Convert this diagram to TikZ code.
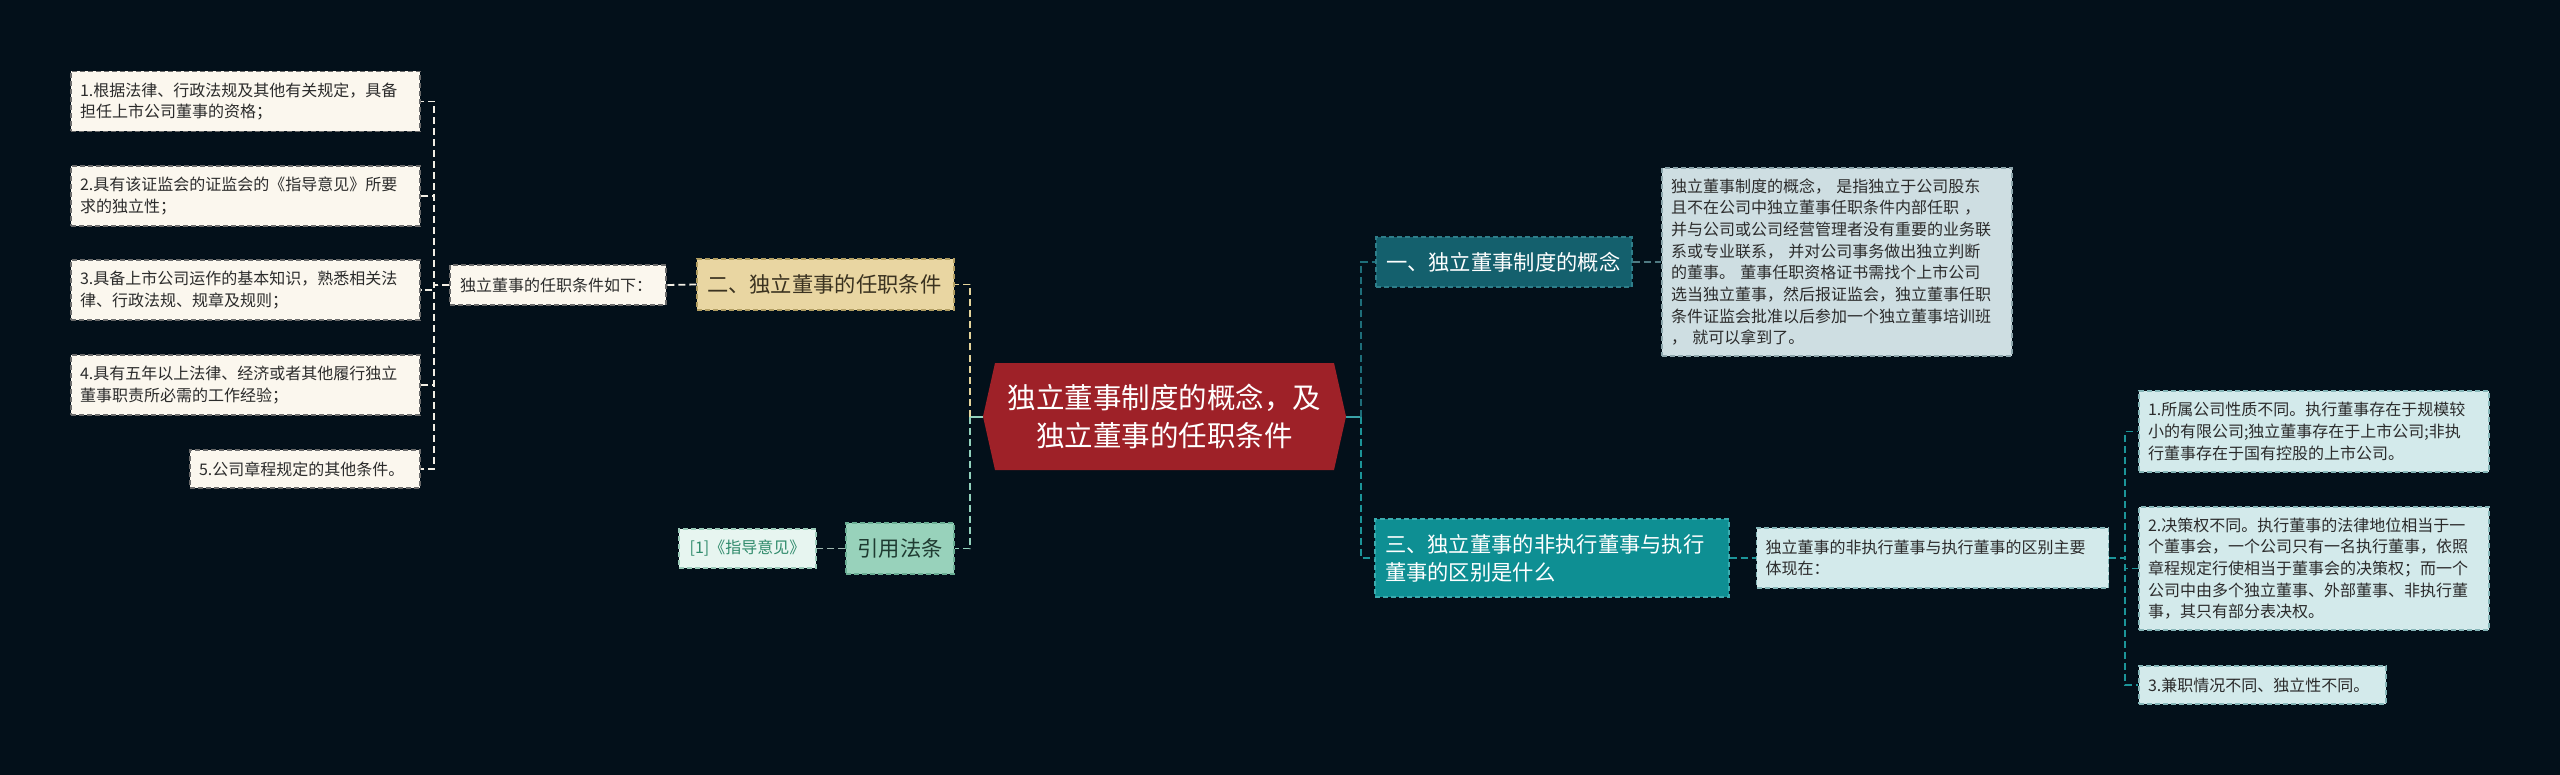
\documentclass[tikz,border=0pt]{standalone}
\usepackage{fontspec}
\setmainfont{Noto Sans CJK SC}
\XeTeXlinebreaklocale "zh"
\usetikzlibrary{calc}
\definecolor{cbg}{HTML}{03101A}
\definecolor{cink}{HTML}{2B2B2B}
\definecolor{cleaf}{HTML}{FBF7EE}
\definecolor{cleafln}{HTML}{6B6B6B}
\definecolor{ctwo}{HTML}{E9D6A2}
\definecolor{ctwoln}{HTML}{B29E62}
\definecolor{ctwotxt}{HTML}{3A3220}
\definecolor{ccite}{HTML}{98D2BB}
\definecolor{cciteln}{HTML}{6AAE94}
\definecolor{ccitetxt}{HTML}{1F3B31}
\definecolor{cref}{HTML}{E7F5F0}
\definecolor{crefln}{HTML}{9CCBBA}
\definecolor{creftxt}{HTML}{2F8A6B}
\definecolor{croot}{HTML}{9E2128}
\definecolor{cone}{HTML}{14606D}
\definecolor{coneln}{HTML}{2E7E8A}
\definecolor{cthree}{HTML}{0E8F93}
\definecolor{cthreeln}{HTML}{3BABAE}
\definecolor{cdesc}{HTML}{CEDEE2}
\definecolor{cdescln}{HTML}{8EA7AD}
\definecolor{cpale}{HTML}{D3EAEB}
\definecolor{cpaleln}{HTML}{86B6B8}
\definecolor{cwire}{HTML}{F2EEE4}
\definecolor{cyel}{HTML}{E5D49A}
\definecolor{cmint}{HTML}{93D3BD}
\definecolor{cdark}{HTML}{1E6E7A}
\definecolor{cteal}{HTML}{1C9599}
\definecolor{cstub}{HTML}{3AA3A8}
\definecolor{cgrey}{HTML}{4F7A82}
\definecolor{cmintgrey}{HTML}{9FB9B0}
\newcommand{\leaffont}{\fontsize{8pt}{10.85pt}\selectfont}
\newcommand{\topicfont}{\fontsize{10.65pt}{14pt}\selectfont}
\newcommand{\rootfont}{\fontsize{14.25pt}{19pt}\selectfont}

\begin{document}
\begin{tikzpicture}[
    x=0.5pt, y=-0.5pt,
    box/.style={line width=0.7pt, dash pattern=on 2.5pt off 1.5pt,
      inner xsep=4.5pt, inner ysep=1pt, align=left, font=\leaffont},
    leaf/.style={box, fill=cleaf, draw=cleafln, text=cink},
    topic/.style={box, font=\topicfont, inner xsep=5pt},
    note/.style={box, fill=cdesc, draw=cdescln, text=cink},
    pale/.style={box, fill=cpale, draw=cpaleln, text=cink},
    wire/.style={line width=0.9pt, dash pattern=on 3.5pt off 2pt},
  ]
  \fill[cbg] (0,0) rectangle (2560,775);
  \useasboundingbox (0,0) rectangle (2560,775);

  % the centre
  \fill[croot] (995,363) -- (1334,363) -- (1346,416.5) -- (1334,470)
    -- (995,470) -- (983,416.5) -- cycle;
  \node[minimum width=169.5pt, minimum height=53.5pt, inner sep=0pt,
    align=center, font=\rootfont, text=white] (root) at (1164.5,416.5)
    {独立董事制度的概念，及\\独立董事的任职条件};
  \coordinate (rootL) at (983,416.5);
  \coordinate (rootR) at (1346,416.5);

  % left side
  \node[topic, fill=ctwo, draw=ctwoln, text=ctwotxt, text width=118.5pt,
    minimum height=25.5pt] (two) at (825.5,284.5) {二、独立董事的任职条件};
  \node[leaf, inner xsep=5pt, text width=98pt, minimum height=20pt]
    (lead) at (558,285) {独立董事的任职条件如下：};
  \node[leaf, text width=165.5pt, minimum height=30pt] (c1) at (245.5,101.5)
    {1.根据法律、行政法规及其他有关规定，具备\\担任上市公司董事的资格；};
  \node[leaf, text width=165.5pt, minimum height=30pt] (c2) at (245.5,196)
    {2.具有该证监会的证监会的《指导意见》所要\\求的独立性；};
  \node[leaf, text width=165.5pt, minimum height=30pt] (c3) at (245.5,290)
    {3.具备上市公司运作的基本知识，熟悉相关法\\律、行政法规、规章及规则；};
  \node[leaf, text width=165.5pt, minimum height=30pt] (c4) at (245.5,385)
    {4.具有五年以上法律、经济或者其他履行独立\\董事职责所必需的工作经验；};
  \node[leaf, text width=106pt, minimum height=19pt] (c5) at (305,469)
    {5.公司章程规定的其他条件。};
  \node[topic, fill=ccite, draw=cciteln, text=ccitetxt, align=center,
    minimum width=54pt, minimum height=25.5pt] (cite) at (900,548.5) {引用法条};
  \node[box, fill=cref, draw=crefln, text=creftxt, align=center,
    minimum width=68.5pt, minimum height=19.5pt] (ref) at (747.5,548.5) {[1]《指导意见》};

  % right side
  \node[topic, fill=cone, draw=coneln, text=white, text width=118pt,
    minimum height=25pt] (one) at (1504,262) {一、独立董事制度的概念};
  \node[note, text width=166pt, minimum height=94pt] (desc1) at (1837,262)
    {独立董事制度的概念， 是指独立于公司股东\\
     且不在公司中独立董事任职条件内部任职 ，\\
     并与公司或公司经营管理者没有重要的业务联\\
     系或专业联系， 并对公司事务做出独立判断\\
     的董事。 董事任职资格证书需找个上市公司\\
     选当独立董事，然后报证监会，独立董事任职\\
     条件证监会批准以后参加一个独立董事培训班\\
     ， 就可以拿到了。};
  \node[topic, fill=cthree, draw=cthreeln, text=white, text width=167pt,
    minimum height=39pt] (three) at (1552,558)
    {三、独立董事的非执行董事与执行\\董事的区别是什么};
  \node[pale, text width=167pt, minimum height=30pt] (desc2) at (1932.5,558)
    {独立董事的非执行董事与执行董事的区别主要\\体现在：};
  \node[pale, text width=166pt, minimum height=40.5pt] (r1) at (2314,431.5)
    {1.所属公司性质不同。执行董事存在于规模较\\
     小的有限公司;独立董事存在于上市公司;非执\\
     行董事存在于国有控股的上市公司。};
  \node[pale, text width=166pt, minimum height=61.5pt] (r2) at (2314,568.5)
    {2.决策权不同。执行董事的法律地位相当于一\\
     个董事会，一个公司只有一名执行董事，依照\\
     章程规定行使相当于董事会的决策权；而一个\\
     公司中由多个独立董事、外部董事、非执行董\\
     事，其只有部分表决权。};
  \node[pale, text width=114.5pt, minimum height=19pt] (r3) at (2262.5,685)
    {3.兼职情况不同、独立性不同。};

  % connectors
  \draw[line width=1pt, cmint] (rootL) -- ++(-13,0) coordinate (lb);
  \draw[line width=1pt, cstub] (rootR) -- ++(15,0) coordinate (rb);
  \draw[wire, cyel] (lb) |- (two.east);
  \draw[wire, cmint] (lb) |- (cite.east);
  \draw[wire, cdark] (rb) |- (one.west);
  \draw[wire, cteal] (rb) |- (three.west);
  \draw[wire, cwire] (two.west) -- (lead.east);
  \foreach \n in {c1,c2,c3,c4,c5}
    \draw[wire, cwire] (lead.west) -- ++(-15,0) |- (\n.east);
  \draw[wire, cmintgrey] (cite.west) -- (ref.east);
  \draw[wire, cgrey] (one.east) -- (desc1.west);
  \draw[wire, cteal] (three.east) -- (desc2.west);
  \foreach \n in {r1,r2,r3}
    \draw[wire, cteal] (desc2.east) -- ++(16,0) |- (\n.west);
\end{tikzpicture}
\end{document}
